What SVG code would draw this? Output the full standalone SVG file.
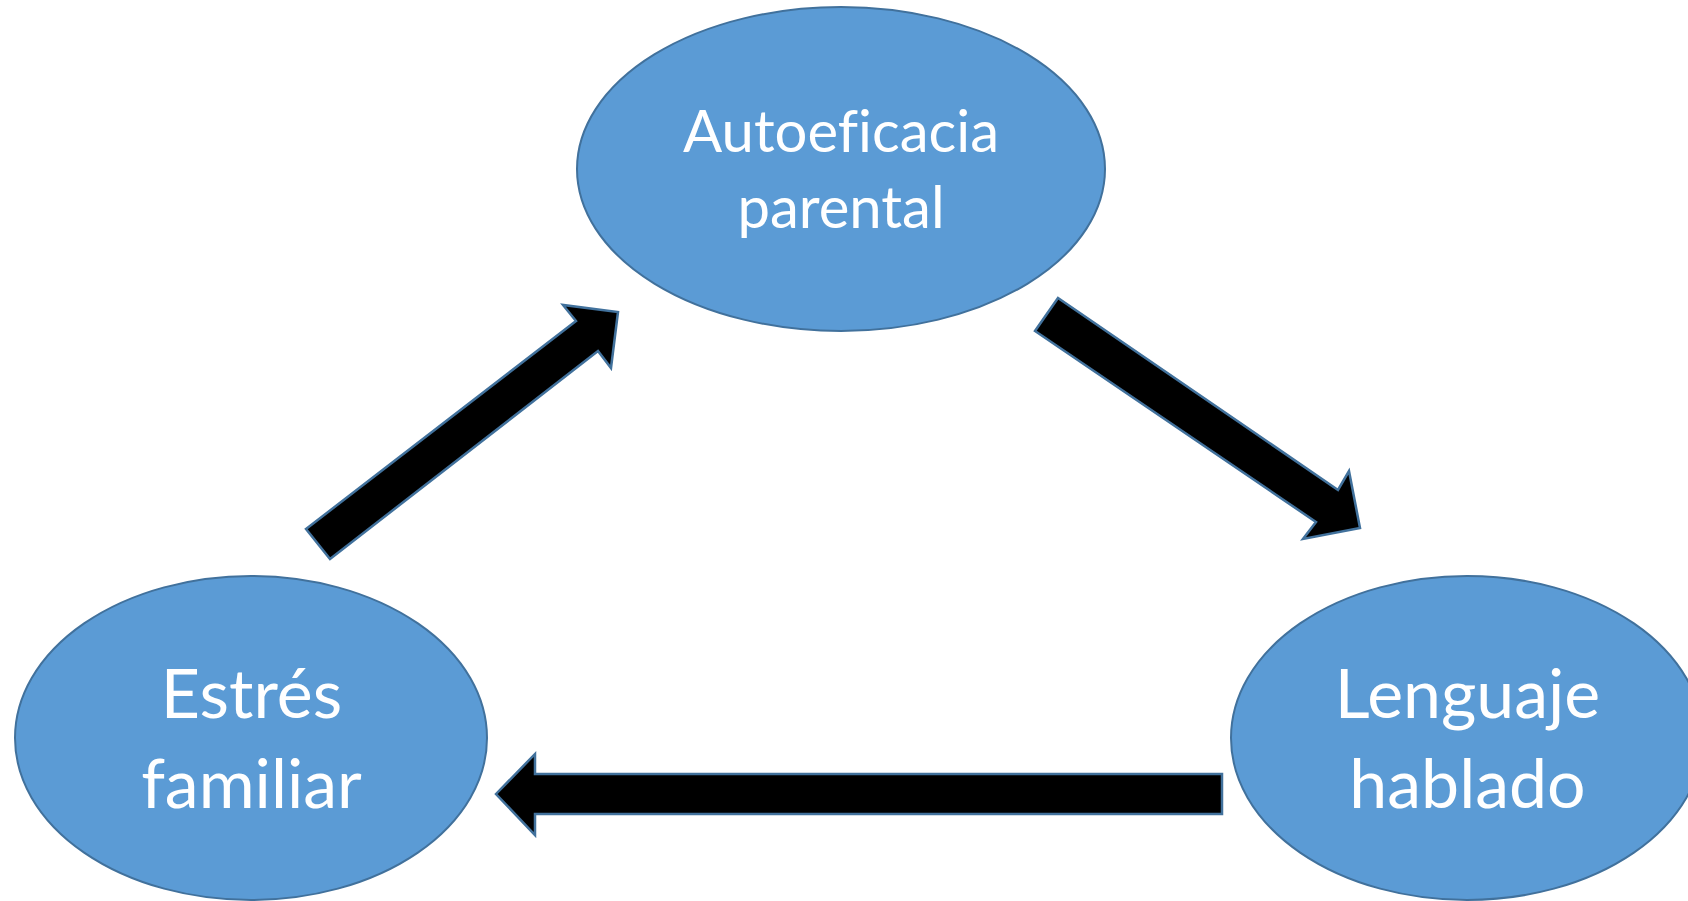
<svg xmlns="http://www.w3.org/2000/svg" width="1688" height="901" viewBox="0 0 1688 901">
<style>
.node{fill:#5B9BD5;stroke:#41719C;stroke-width:2}
.lbl{fill:#FFFFFF;font-family:Lato,"Open Sans","Liberation Sans",sans-serif;text-anchor:middle;font-variant-ligatures:none;font-feature-settings:"liga" 0}
.big{font-size:68px}
.med{font-size:58px}
.arrow{fill:#000000;stroke:#41719C;stroke-width:2.5;stroke-linejoin:miter}
</style>
<rect width="1688" height="901" fill="#FFFFFF"/>
<g id="connectors">
<polygon class="arrow" points="306,529 576,321 563,305 618,312 611,368 598,351 330,559"/>
<polygon class="arrow" points="1058,298 1338,490 1349,471 1360,528 1303,539 1316,522 1035,331"/>
<polygon class="arrow" points="496,794 535,754 535,774 1222,774 1222,814 535,814 535,835"/>
</g>
<g id="node-autoeficacia">
<ellipse class="node" cx="841" cy="169" rx="264" ry="162"/>
<text class="lbl med" x="841" y="152">Autoeficacia</text>
<text class="lbl med" x="841" y="228">parental</text>
</g>
<g id="node-estres">
<ellipse class="node" cx="251" cy="738" rx="236" ry="162"/>
<text class="lbl big" x="251.5" y="718">Estrés</text>
<text class="lbl big" x="251.5" y="808">familiar</text>
</g>
<g id="node-lenguaje">
<ellipse class="node" cx="1467" cy="738" rx="236" ry="162"/>
<text class="lbl big" x="1467.5" y="718">Lenguaje</text>
<text class="lbl big" x="1467.5" y="808">hablado</text>
</g>
</svg>
